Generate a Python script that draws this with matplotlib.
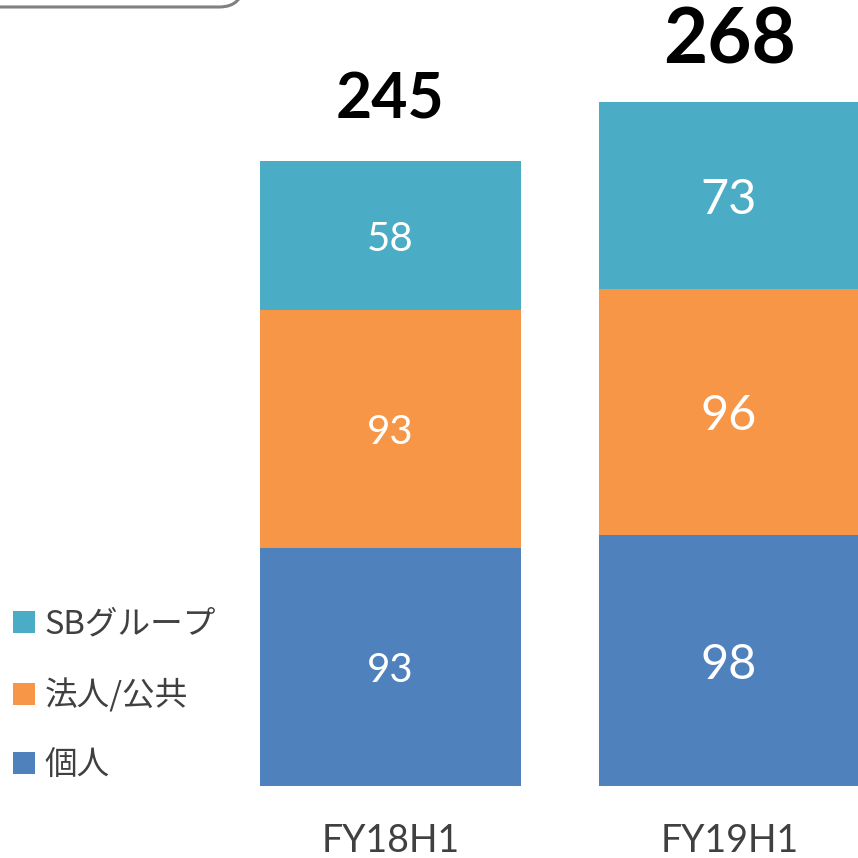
import matplotlib.pyplot as plt
from matplotlib.patches import FancyBboxPatch, Patch
import numpy as np

plt.rcParams['font.family'] = ['Noto Sans CJK JP', 'DejaVu Sans']
NUM_FONT = ['Lato', 'DejaVu Sans']

# data
periods = ['FY18H1', 'FY19H1']
kojin = [93, 98]          # 個人
hojin = [93, 96]          # 法人/公共
sb_group = [58, 73]       # SBグループ
totals = [245, 268]

series_names = ['個人', '法人/公共', 'SBグループ']
series_colors = ['#4F81BD', '#F79646', '#4BACC6']

W = 858
fig = plt.figure(figsize=(8.58, 8.58), dpi=100)
ax = fig.add_axes([0, 72 / W, 1, 786 / W])
ax.patch.set_alpha(0)

x = np.arange(len(periods))
width = 0.769
bottom = np.zeros(len(periods))
for vals, color in zip([kojin, hojin, sb_group], series_colors):
    bars = ax.bar(x, vals, width, bottom=bottom, color=color, edgecolor='none')
    labels = ax.bar_label(bars, label_type='center', color='white',
                          fontsize=29, fontweight='normal', family=NUM_FONT)
    labels[1].set_fontsize(35)
    for lb in labels:
        lb.set_va('center_baseline')
    bottom += np.array(vals)

# totals above bars
total_sizes = [45, 55]
total_offsets = [31, 28]
for i, t in enumerate(totals):
    ax.annotate(str(t), xy=(x[i], bottom[i]), xytext=(0, total_offsets[i]),
                textcoords='offset points', ha='center', va='baseline',
                fontsize=total_sizes[i], fontweight='bold', color='black',
                family=NUM_FONT)

ax.set_xlim(-1.150, 1.377)
ax.set_ylim(0, 307.03)
ax.set_xticks(x)
ax.set_xticklabels(periods, fontsize=27, color='#404040', fontweight='normal',
                   family=NUM_FONT)
ax.tick_params(axis='x', length=0, pad=27)
ax.set_yticks([])
for s in ax.spines.values():
    s.set_visible(False)

# legend (SB on top)
handles = [Patch(facecolor=c, edgecolor='none') for c in series_colors]
leg = fig.legend(handles[::-1], series_names[::-1], loc='lower left',
                 bbox_to_anchor=(0.0, 0.074), frameon=False, fontsize=23.5,
                 handlelength=0.67, handleheight=0.67, handletextpad=0.3,
                 labelspacing=1.14, borderaxespad=0)
for t in leg.get_texts():
    t.set_color('#404040')

# partial rounded box at top left
ov = fig.add_axes([0, 0, 1, 1], zorder=-1)
ov.set_xlim(0, W)
ov.set_ylim(W, 0)
ov.axis('off')
box = FancyBboxPatch((-40, -60), 283, 67, boxstyle='round,pad=0,rounding_size=24',
                     facecolor='white', edgecolor='#808080', linewidth=2.2)
ov.add_patch(box)

fig.savefig('out.png', dpi=100)
